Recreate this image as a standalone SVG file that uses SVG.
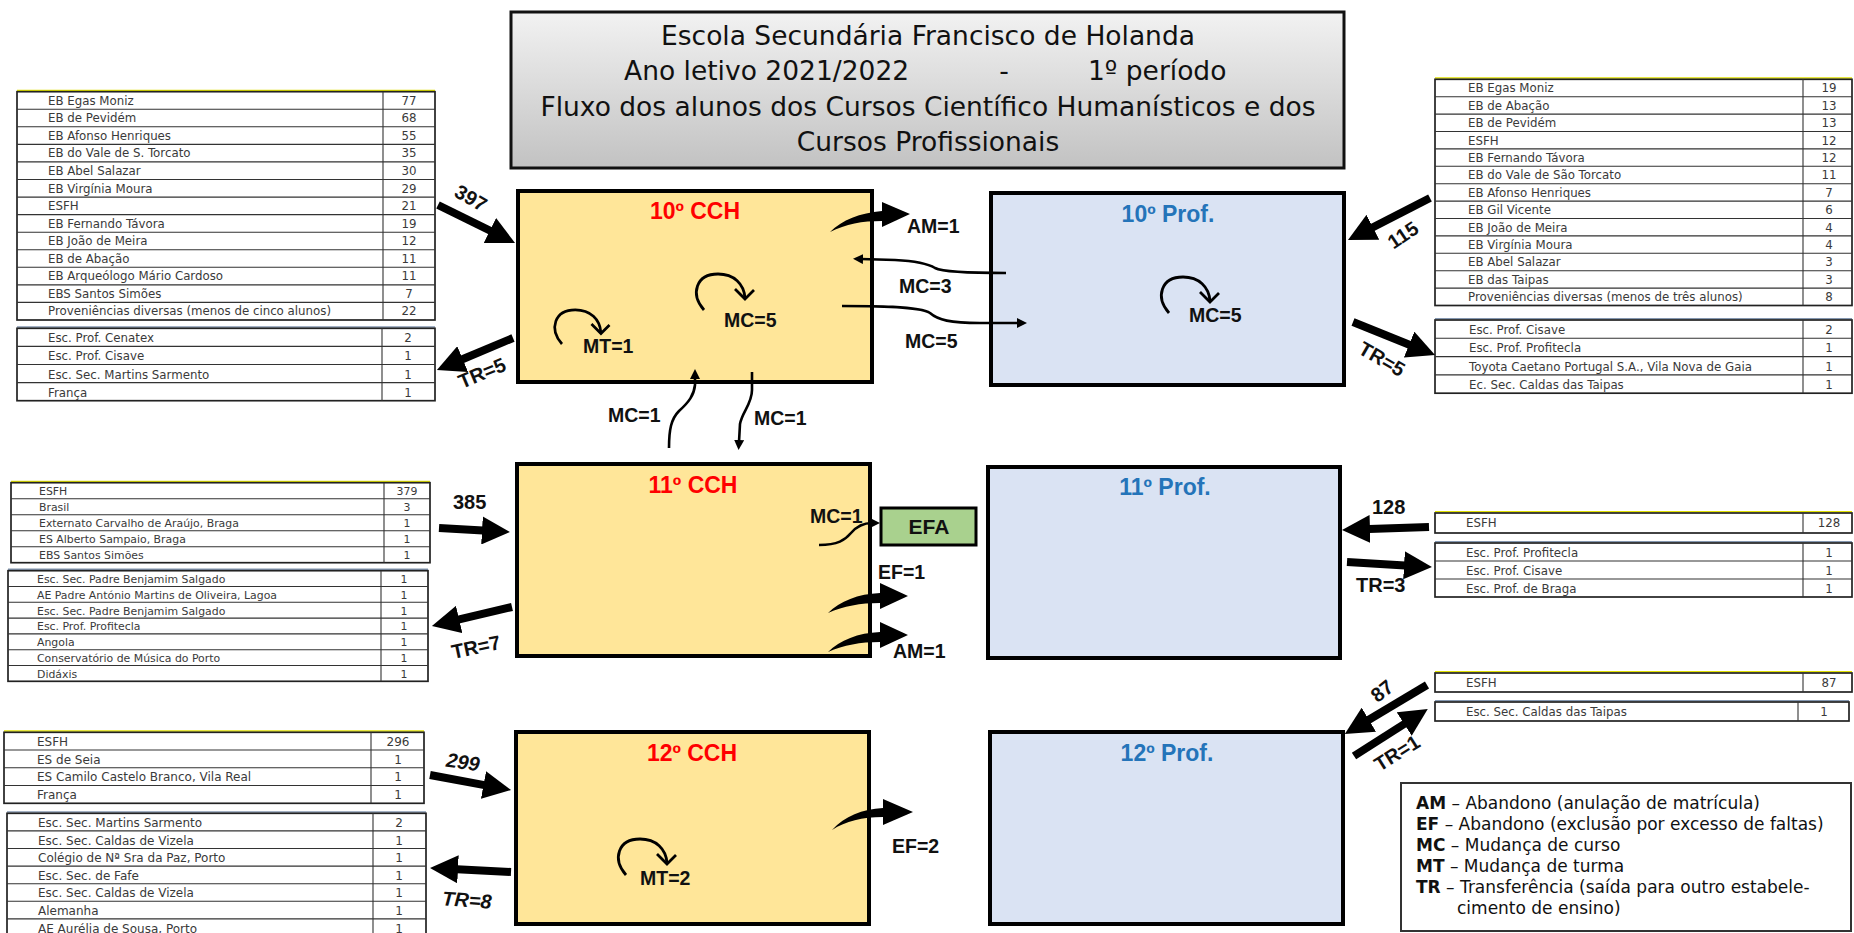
<svg xmlns="http://www.w3.org/2000/svg" width="1854" height="933" viewBox="0 0 1854 933">
<defs>
<linearGradient id="tg" x1="0" y1="0" x2="0" y2="1">
<stop offset="0" stop-color="#f2f2f2"/>
<stop offset="1" stop-color="#c2c2c2"/>
</linearGradient>
<marker id="hd" markerUnits="userSpaceOnUse" markerWidth="28" markerHeight="28" viewBox="0 0 28 28" refX="1" refY="14" orient="auto">
<path d="M0,0 L28,14 L0,28 Z" fill="#000"/>
</marker>
<marker id="sh" markerUnits="userSpaceOnUse" markerWidth="10" markerHeight="10" viewBox="0 0 10 10" refX="2" refY="5" orient="auto">
<path d="M0,0 L10,5 L0,10 Z" fill="#000"/>
</marker>
<g id="loop">
<path d="M0,0 C-14,-16 -8,-36 14,-36 C30,-36 40,-26 41,-12" fill="none" stroke="#000" stroke-width="2.8"/>
<path d="M31,-21 L41,-11 L50,-20" fill="none" stroke="#000" stroke-width="2.8"/>
</g>
</defs>
<style>
.cch{fill:#ffe699;stroke:#000;stroke-width:4}
.prof{fill:#dae3f3;stroke:#000;stroke-width:4}
.hc{font-family:"Liberation Sans",Arial,sans-serif;font-weight:bold;font-size:23px;fill:#ff0000;text-anchor:middle}
.hp{font-family:"Liberation Sans",Arial,sans-serif;font-weight:bold;font-size:23px;fill:#2474b9;text-anchor:middle}
.lb{font-family:"Liberation Sans",Arial,sans-serif;font-weight:bold;font-size:19.5px;fill:#111}
.ln{font-family:"Liberation Sans",Arial,sans-serif;font-weight:bold;font-size:20px;fill:#111}
.it{font-style:italic}
.big{stroke:#000;stroke-width:8;fill:none;marker-end:url(#hd)}
.thin{stroke:#000;stroke-width:2.6;fill:none;marker-end:url(#sh)}
.tb{fill:#fff;stroke:#222;stroke-width:1.7}
.tl{stroke:#333;stroke-width:1.1;fill:none}
.tt{font-family:"DejaVu Sans",sans-serif;fill:#3a3a3a}
.v{text-anchor:middle}
.ty{stroke:#e0e000;stroke-width:1.6}
.tbl{stroke:#8497b0;stroke-width:1.6}
.title{font-family:"DejaVu Sans",sans-serif;font-size:26.5px;fill:#111}
.leg{font-family:"DejaVu Sans",sans-serif;font-size:17px;fill:#111}
</style>

<g id="title">
<rect x="511" y="12" width="833" height="156" fill="url(#tg)" stroke="#111" stroke-width="3"/>
<text class="title" x="928" y="45" text-anchor="middle">Escola Secundária Francisco de Holanda</text>
<text class="title" x="624" y="80">Ano letivo 2021/2022</text>
<text class="title" x="1004" y="80" text-anchor="middle">-</text>
<text class="title" x="1088" y="80">1º período</text>
<text class="title" x="928" y="116" text-anchor="middle">Fluxo dos alunos dos Cursos Científico Humanísticos e dos</text>
<text class="title" x="928" y="151" text-anchor="middle">Cursos Profissionais</text>
</g>

<g id="n10cch">
<rect class="cch" x="518" y="191" width="354" height="191"/>
<text class="hc" x="695" y="219">10º CCH</text>
<use href="#loop" transform="translate(562,344) scale(0.95)"/>
<text class="lb" x="583" y="353">MT=1</text>
<use href="#loop" transform="translate(704,310)"/>
<text class="lb" x="724" y="327">MC=5</text>
</g>

<g id="n10prof">
<rect class="prof" x="991" y="193" width="353" height="192"/>
<text class="hp" x="1168" y="222">10º Prof.</text>
<use href="#loop" transform="translate(1169,313)"/>
<text class="lb" x="1189" y="322">MC=5</text>
</g>

<g id="n11cch">
<rect class="cch" x="517" y="464" width="353" height="192"/>
<text class="hc" x="693" y="493">11º CCH</text>
</g>

<g id="n11prof">
<rect class="prof" x="988" y="467" width="352" height="191"/>
<text class="hp" x="1165" y="495">11º Prof.</text>
</g>

<g id="n12cch">
<rect class="cch" x="516" y="732" width="353" height="192"/>
<text class="hc" x="692" y="761">12º CCH</text>
<use href="#loop" transform="translate(626,875)"/>
<text class="lb" x="640" y="885">MT=2</text>
</g>

<g id="n12prof">
<rect class="prof" x="990" y="732" width="353" height="192"/>
<text class="hp" x="1167" y="761">12º Prof.</text>
</g>

<g id="efa">
<rect x="881" y="508" width="95" height="37" fill="#a9d18e" stroke="#000" stroke-width="3"/>
<text x="929" y="534" font-family="Liberation Sans, Arial, sans-serif" font-weight="bold" font-size="21" fill="#111" text-anchor="middle">EFA</text>
</g>

<g id="tA" class="tt" font-size="11.8">
<line class="ty" x1="17" y1="90.5" x2="435" y2="90.5"/>
<rect class="tb" x="17" y="91.7" width="418" height="228.3"/>
<path class="tl" d="M17,109.3H435M17,126.8H435M17,144.4H435M17,161.9H435M17,179.5H435M17,197.1H435M17,214.6H435M17,232.2H435M17,249.7H435M17,267.3H435M17,284.9H435M17,302.4H435M383,91.7V320"/>
<text x="48" y="104.7">EB Egas Moniz</text><text class="v" x="409" y="104.7">77</text>
<text x="48" y="122.3">EB de Pevidém</text><text class="v" x="409" y="122.3">68</text>
<text x="48" y="139.8">EB Afonso Henriques</text><text class="v" x="409" y="139.8">55</text>
<text x="48" y="157.4">EB do Vale de S. Torcato</text><text class="v" x="409" y="157.4">35</text>
<text x="48" y="174.9">EB Abel Salazar</text><text class="v" x="409" y="174.9">30</text>
<text x="48" y="192.5">EB Virgínia Moura</text><text class="v" x="409" y="192.5">29</text>
<text x="48" y="210.1">ESFH</text><text class="v" x="409" y="210.1">21</text>
<text x="48" y="227.6">EB Fernando Távora</text><text class="v" x="409" y="227.6">19</text>
<text x="48" y="245.2">EB João de Meira</text><text class="v" x="409" y="245.2">12</text>
<text x="48" y="262.7">EB de Abação</text><text class="v" x="409" y="262.7">11</text>
<text x="48" y="280.3">EB Arqueólogo Mário Cardoso</text><text class="v" x="409" y="280.3">11</text>
<text x="48" y="297.9">EBS Santos Simões</text><text class="v" x="409" y="297.9">7</text>
<text x="48" y="315.4">Proveniências diversas (menos de cinco alunos)</text><text class="v" x="409" y="315.4">22</text>
</g>

<g id="tB" class="tt" font-size="11.8">
<line class="tbl" x1="17" y1="327" x2="435" y2="327"/>
<rect class="tb" x="17" y="328.3" width="418" height="72.4"/>
<path class="tl" d="M17,346.4H435M17,364.5H435M17,382.6H435M382,328.3V400.7"/>
<text x="48" y="342.3">Esc. Prof. Cenatex</text><text class="v" x="408" y="342.3">2</text>
<text x="48" y="360.4">Esc. Prof. Cisave</text><text class="v" x="408" y="360.4">1</text>
<text x="48" y="378.5">Esc. Sec. Martins Sarmento</text><text class="v" x="408" y="378.5">1</text>
<text x="48" y="396.6">França</text><text class="v" x="408" y="396.6">1</text>
</g>

<g id="tC" class="tt" font-size="11.8">
<line class="ty" x1="1435" y1="78" x2="1852" y2="78"/>
<rect class="tb" x="1435" y="79.3" width="417" height="226.2"/>
<path class="tl" d="M1435,96.7H1852M1435,114.1H1852M1435,131.5H1852M1435,148.9H1852M1435,166.3H1852M1435,183.7H1852M1435,201.1H1852M1435,218.5H1852M1435,235.9H1852M1435,253.3H1852M1435,270.7H1852M1435,288.1H1852M1803,79.3V305.5"/>
<text x="1468" y="92.3">EB Egas Moniz</text><text class="v" x="1829" y="92.3">19</text>
<text x="1468" y="109.7">EB de Abação</text><text class="v" x="1829" y="109.7">13</text>
<text x="1468" y="127.1">EB de Pevidém</text><text class="v" x="1829" y="127.1">13</text>
<text x="1468" y="144.5">ESFH</text><text class="v" x="1829" y="144.5">12</text>
<text x="1468" y="161.9">EB Fernando Távora</text><text class="v" x="1829" y="161.9">12</text>
<text x="1468" y="179.3">EB do Vale de São Torcato</text><text class="v" x="1829" y="179.3">11</text>
<text x="1468" y="196.7">EB Afonso Henriques</text><text class="v" x="1829" y="196.7">7</text>
<text x="1468" y="214.1">EB Gil Vicente</text><text class="v" x="1829" y="214.1">6</text>
<text x="1468" y="231.5">EB João de Meira</text><text class="v" x="1829" y="231.5">4</text>
<text x="1468" y="248.9">EB Virgínia Moura</text><text class="v" x="1829" y="248.9">4</text>
<text x="1468" y="266.3">EB Abel Salazar</text><text class="v" x="1829" y="266.3">3</text>
<text x="1468" y="283.7">EB das Taipas</text><text class="v" x="1829" y="283.7">3</text>
<text x="1468" y="301.1">Proveniências diversas (menos de três alunos)</text><text class="v" x="1829" y="301.1">8</text>
</g>

<g id="tD" class="tt" font-size="11.8">
<line class="tbl" x1="1435" y1="318.7" x2="1852" y2="318.7"/>
<rect class="tb" x="1435" y="320" width="417" height="73.2"/>
<path class="tl" d="M1435,338.3H1852M1435,356.6H1852M1435,374.9H1852M1803,320V393.2"/>
<text x="1469" y="334">Esc. Prof. Cisave</text><text class="v" x="1829" y="334">2</text>
<text x="1469" y="352.3">Esc. Prof. Profitecla</text><text class="v" x="1829" y="352.3">1</text>
<text x="1469" y="370.6">Toyota Caetano Portugal S.A., Vila Nova de Gaia</text><text class="v" x="1829" y="370.6">1</text>
<text x="1469" y="388.9">Ec. Sec. Caldas das Taipas</text><text class="v" x="1829" y="388.9">1</text>
</g>

<g id="tE" class="tt" font-size="10.9">
<line class="ty" x1="11" y1="481.5" x2="430" y2="481.5"/>
<rect class="tb" x="11" y="482.7" width="419" height="80"/>
<path class="tl" d="M11,498.7H430M11,514.7H430M11,530.7H430M11,546.7H430M384,482.7V562.7"/>
<text x="39" y="495">ESFH</text><text class="v" x="407" y="495">379</text>
<text x="39" y="511">Brasil</text><text class="v" x="407" y="511">3</text>
<text x="39" y="527">Externato Carvalho de Araújo, Braga</text><text class="v" x="407" y="527">1</text>
<text x="39" y="543">ES Alberto Sampaio, Braga</text><text class="v" x="407" y="543">1</text>
<text x="39" y="559">EBS Santos Simões</text><text class="v" x="407" y="559">1</text>
</g>

<g id="tF" class="tt" font-size="10.9">
<line class="tbl" x1="8" y1="569.4" x2="428" y2="569.4"/>
<rect class="tb" x="8" y="570.7" width="420" height="110.6"/>
<path class="tl" d="M8,586.5H428M8,602.3H428M8,618.1H428M8,633.9H428M8,649.7H428M8,665.5H428M381,570.7V681.3"/>
<text x="37" y="583">Esc. Sec. Padre Benjamim Salgado</text><text class="v" x="404" y="583">1</text>
<text x="37" y="598.8">AE Padre António Martins de Oliveira, Lagoa</text><text class="v" x="404" y="598.8">1</text>
<text x="37" y="614.6">Esc. Sec. Padre Benjamim Salgado</text><text class="v" x="404" y="614.6">1</text>
<text x="37" y="630.4">Esc. Prof. Profitecla</text><text class="v" x="404" y="630.4">1</text>
<text x="37" y="646.2">Angola</text><text class="v" x="404" y="646.2">1</text>
<text x="37" y="662">Conservatório de Música do Porto</text><text class="v" x="404" y="662">1</text>
<text x="37" y="677.8">Didáxis</text><text class="v" x="404" y="677.8">1</text>
</g>

<g id="tG" class="tt" font-size="12">
<line class="ty" x1="4" y1="731" x2="424" y2="731"/>
<rect class="tb" x="4" y="732.3" width="420" height="71"/>
<path class="tl" d="M4,750H424M4,767.8H424M4,785.5H424M371,732.3V803.3"/>
<text x="37" y="745.9">ESFH</text><text class="v" x="398" y="745.9">296</text>
<text x="37" y="763.6">ES de Seia</text><text class="v" x="398" y="763.6">1</text>
<text x="37" y="781.4">ES Camilo Castelo Branco, Vila Real</text><text class="v" x="398" y="781.4">1</text>
<text x="37" y="799.1">França</text><text class="v" x="398" y="799.1">1</text>
</g>

<g id="tH" class="tt" font-size="12">
<line class="tbl" x1="7" y1="812" x2="426" y2="812"/>
<rect class="tb" x="7" y="813.3" width="419" height="123.2"/>
<path class="tl" d="M7,830.9H426M7,848.5H426M7,866.1H426M7,883.7H426M7,901.3H426M7,918.9H426M373,813.3V936.5"/>
<text x="38" y="826.9">Esc. Sec. Martins Sarmento</text><text class="v" x="399" y="826.9">2</text>
<text x="38" y="844.5">Esc. Sec. Caldas de Vizela</text><text class="v" x="399" y="844.5">1</text>
<text x="38" y="862.1">Colégio de Nª Sra da Paz, Porto</text><text class="v" x="399" y="862.1">1</text>
<text x="38" y="879.7">Esc. Sec. de Fafe</text><text class="v" x="399" y="879.7">1</text>
<text x="38" y="897.3">Esc. Sec. Caldas de Vizela</text><text class="v" x="399" y="897.3">1</text>
<text x="38" y="914.9">Alemanha</text><text class="v" x="399" y="914.9">1</text>
<text x="38" y="932.5">AE Aurélia de Sousa, Porto</text><text class="v" x="399" y="932.5">1</text>
</g>

<g id="tI" class="tt" font-size="11.8">
<line class="ty" x1="1435" y1="511.7" x2="1852" y2="511.7"/>
<rect class="tb" x="1435" y="513" width="417" height="20"/>
<path class="tl" d="M1803,513V533"/>
<text x="1466" y="527.3">ESFH</text><text class="v" x="1829" y="527.3">128</text>
</g>

<g id="tJ" class="tt" font-size="11.8">
<line class="tbl" x1="1435" y1="541.7" x2="1852" y2="541.7"/>
<rect class="tb" x="1435" y="543" width="417" height="54"/>
<path class="tl" d="M1435,561H1852M1435,579H1852M1803,543V597"/>
<text x="1466" y="557">Esc. Prof. Profitecla</text><text class="v" x="1829" y="557">1</text>
<text x="1466" y="575">Esc. Prof. Cisave</text><text class="v" x="1829" y="575">1</text>
<text x="1466" y="593">Esc. Prof. de Braga</text><text class="v" x="1829" y="593">1</text>
</g>

<g id="tK" class="tt" font-size="11.8">
<line class="ty" x1="1435" y1="671.7" x2="1852" y2="671.7"/>
<rect class="tb" x="1435" y="673" width="417" height="19"/>
<path class="tl" d="M1803,673V692"/>
<text x="1466" y="687">ESFH</text><text class="v" x="1829" y="687">87</text>
</g>

<g id="tL" class="tt" font-size="11.8">
<line class="tbl" x1="1435" y1="700.7" x2="1849" y2="700.7"/>
<rect class="tb" x="1435" y="702" width="414" height="19"/>
<path class="tl" d="M1798,702V721"/>
<text x="1466" y="716">Esc. Sec. Caldas das Taipas</text><text class="v" x="1824" y="716">1</text>
</g>

<g id="legend">
<rect x="1401" y="783" width="450" height="148" fill="#fff" stroke="#333" stroke-width="2"/>
<text class="leg" x="1416" y="809"><tspan font-weight="bold">AM</tspan> – Abandono (anulação de matrícula)</text>
<text class="leg" x="1416" y="830"><tspan font-weight="bold">EF</tspan> – Abandono (exclusão por excesso de faltas)</text>
<text class="leg" x="1416" y="851"><tspan font-weight="bold">MC</tspan> – Mudança de curso</text>
<text class="leg" x="1416" y="872"><tspan font-weight="bold">MT</tspan> – Mudança de turma</text>
<text class="leg" x="1416" y="893"><tspan font-weight="bold">TR</tspan> – Transferência (saída para outro estabele-</text>
<text class="leg" x="1457" y="914">cimento de ensino)</text>
</g>

<g id="connectors">
<line class="big" x1="438" y1="205" x2="490.8" y2="231"/>
<line class="big" x1="513" y1="338" x2="461.8" y2="359.5"/>
<line class="big" x1="439" y1="528" x2="483" y2="530.5"/>
<line class="big" x1="512" y1="607" x2="458.2" y2="619.7"/>
<line class="big" x1="430" y1="775" x2="484.5" y2="785.1"/>
<line class="big" x1="511" y1="872" x2="457" y2="869.3"/>
<line class="big" x1="1430" y1="198" x2="1372" y2="227.7"/>
<line class="big" x1="1353" y1="322" x2="1410" y2="345"/>
<line class="big" x1="1429" y1="527" x2="1369" y2="529"/>
<line class="big" x1="1347" y1="562" x2="1405" y2="565.4"/>
<line class="big" x1="1427" y1="685" x2="1368" y2="720.2"/>
<line class="big" x1="1354" y1="756" x2="1405" y2="723.5"/>

<path d="M830,232 C842,220 860,213 882,211 L882,202 L910,214 L882,227 L882,221 C862,221 846,224 830,232 Z" fill="#000"/>
<path d="M828,613 C840,601 858,594 880,593 L880,583 L908,596 L880,609 L880,603 C860,603 844,606 828,613 Z" fill="#000"/>
<path d="M828,652 C840,640 858,633 880,632 L880,622 L908,635 L880,648 L880,642 C860,642 844,645 828,652 Z" fill="#000"/>
<path d="M832,830 C845,816 862,809 883,808 L883,799 L913,812 L883,825 L883,817 C862,817 846,821 832,830 Z" fill="#000"/>

<path class="thin" d="M1006,273 C985,273 945,273 935,268 C927,263 915,261 895,260 L861,259"/>
<path class="thin" d="M842,306 C870,306 920,306 930,313 C938,320 950,323 980,323 L1019,323"/>
<path class="thin" stroke-width="3" d="M669,448 C669,430 671,419 679,411 C689,402 694,395 695,385 L695,377"/>
<path class="thin" stroke-width="3" d="M752,372 L752,390 C752,404 742,412 740,424 L739,442"/>
<path class="thin" d="M819,545 C838,545 845,540 851,533 C857,526 864,523 872,523"/>
</g>

<g id="labels">
<text class="ln" transform="translate(471,198) rotate(30)" x="0" y="7" text-anchor="middle">397</text>
<text class="ln" transform="translate(482,373) rotate(-23)" x="0" y="7" text-anchor="middle">TR=5</text>
<text class="ln" x="453" y="509">385</text>
<text class="ln" transform="translate(476,647) rotate(-12)" x="0" y="7" text-anchor="middle">TR=7</text>
<text class="ln it" transform="translate(463,762) rotate(8)" x="0" y="7" text-anchor="middle">299</text>
<text class="ln it" transform="translate(467,900) rotate(4)" x="0" y="7" text-anchor="middle">TR=8</text>
<text class="ln" transform="translate(1403,235) rotate(-34)" x="0" y="7" text-anchor="middle">115</text>
<text class="ln" transform="translate(1382,359) rotate(30)" x="0" y="7" text-anchor="middle">TR=5</text>
<text class="ln" x="1372" y="514">128</text>
<text class="ln" x="1356" y="592">TR=3</text>
<text class="ln" transform="translate(1382,691) rotate(-38)" x="0" y="7" text-anchor="middle">87</text>
<text class="ln" transform="translate(1397,753) rotate(-32)" x="0" y="7" text-anchor="middle">TR=1</text>

<text class="lb" x="907" y="233">AM=1</text>
<text class="lb" x="899" y="293">MC=3</text>
<text class="lb" x="905" y="348">MC=5</text>
<text class="lb" x="608" y="422">MC=1</text>
<text class="lb" x="754" y="425">MC=1</text>
<text class="lb" x="810" y="523">MC=1</text>
<text class="lb" x="878" y="579">EF=1</text>
<text class="lb" x="893" y="658">AM=1</text>
<text class="lb" x="892" y="853">EF=2</text>
</g>
</svg>
